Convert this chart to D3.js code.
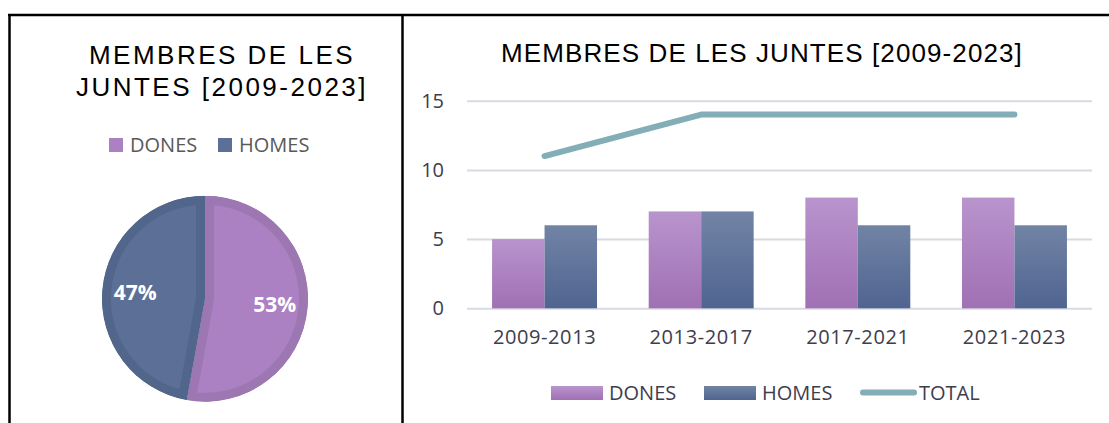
<!DOCTYPE html>
<html>
<head>
<meta charset="utf-8">
<script src="https://cdn.jsdelivr.net/npm/d3@7"></script>
<style>
  body { margin: 0; background: #fff; }
  svg { display: block; }
</style>
</head>
<body>
<svg width="1109" height="423"></svg>
<script>
/*data*/
var categories = ["2009-2013", "2013-2017", "2017-2021", "2021-2023"];
var series = ["DONES", "HOMES"];
var dones = [5, 7, 8, 8];
var homes = [6, 7, 6, 6];
var total = [11, 14, 14, 14];
var yTicks = [0, 5, 10, 15];
var title = "MEMBRES DE LES JUNTES [2009-2023]";

var colors = {DONES: {top: "#B894CD", bottom: "#A070B4", pie: "#AB81C3", edge: "#9C77B2"},
              HOMES: {top: "#7284A5", bottom: "#4F6490", pie: "#5B6F97", edge: "#51668A"}};
var lineColor = "#83AEB7";

var svg = d3.select("svg");

var defs = svg.append("defs");
series.forEach(function(s) {
  var g = defs.append("linearGradient")
    .attr("id", "grad-" + s)
    .attr("x1", 0).attr("y1", 0).attr("x2", 0).attr("y2", 1);
  g.append("stop").attr("offset", "0%").attr("stop-color", colors[s].top);
  g.append("stop").attr("offset", "100%").attr("stop-color", colors[s].bottom);
});

// frame lines
svg.append("line").attr("x1", 8).attr("x2", 1109).attr("y1", 15).attr("y2", 15)
  .attr("stroke", "#000").attr("stroke-width", 2.5);
svg.append("line").attr("x1", 9.5).attr("x2", 9.5).attr("y1", 14).attr("y2", 423)
  .attr("stroke", "#000").attr("stroke-width", 2.5);
svg.append("line").attr("x1", 402.5).attr("x2", 402.5).attr("y1", 14).attr("y2", 423)
  .attr("stroke", "#000").attr("stroke-width", 2.5);

/* ---- left: pie ---- */
var left = svg.append("g");

left.selectAll("text.title")
  .data(["MEMBRES DE LES", "JUNTES [2009-2023]"])
  .enter().append("text")
  .attr("class", "title")
  .attr("x", 222)
  .attr("y", function(d, i) { return 64 + i * 32; })
  .attr("text-anchor", "middle")
  .style("font-family", "'Liberation Sans', Arial, sans-serif")
  .style("font-size", "26px")
  .style("letter-spacing", "2.5px")
  .style("fill", "#000")
  .text(function(d) { return d; });

var pieLegend = left.selectAll("g.pleg")
  .data(series)
  .enter().append("g")
  .attr("class", "pleg")
  .attr("transform", function(d, i) { return "translate(" + (109 + i * 109) + ",138)"; });
pieLegend.append("rect")
  .attr("width", 14).attr("height", 14)
  .attr("fill", function(d) { return colors[d].pie; });
pieLegend.append("text")
  .attr("x", 21).attr("y", 14)
  .style("font-family", "'Open Sans', sans-serif")
  .style("font-size", "20px")
  .style("fill", "#595959")
  .text(function(d) { return d; });

var pieData = [
  {key: "DONES", value: d3.sum(dones)},
  {key: "HOMES", value: d3.sum(homes)}
];
var sumAll = d3.sum(pieData, function(d) { return d.value; });

var pie = d3.pie().sort(null).value(function(d) { return d.value; });
var r = 103;
var arc = d3.arc().innerRadius(0).outerRadius(r);
var labelArc = d3.arc().innerRadius(70).outerRadius(70);

var pg = left.append("g").attr("transform", "translate(205,298.7)");
var slices = pie(pieData);

var sg = pg.selectAll("g.slice").data(slices).enter().append("g").attr("class", "slice");
sg.append("clipPath")
  .attr("id", function(d) { return "clip-" + d.data.key; })
  .append("path").attr("d", arc);
sg.append("path")
  .attr("d", arc)
  .attr("fill", function(d) { return colors[d.data.key].pie; })
  .attr("stroke", function(d) { return colors[d.data.key].edge; })
  .attr("stroke-width", 18)
  .attr("clip-path", function(d) { return "url(#clip-" + d.data.key + ")"; });

sg.append("text")
  .attr("transform", function(d) { return "translate(" + labelArc.centroid(d) + ")"; })
  .attr("dy", "0.35em")
  .attr("text-anchor", "middle")
  .style("font-family", "'Open Sans', sans-serif")
  .style("font-weight", "bold")
  .style("font-size", "21px")
  .style("fill", "#fff")
  .text(function(d) { return Math.round(d.value / sumAll * 100) + "%"; });

/* ---- right: bars + line ---- */
svg.append("text")
  .attr("x", 762).attr("y", 62)
  .attr("text-anchor", "middle")
  .style("font-family", "'Liberation Sans', Arial, sans-serif")
  .style("font-size", "26px")
  .style("letter-spacing", "1.1px")
  .style("fill", "#000")
  .text(title);

var x0 = d3.scaleBand().domain(categories).range([467, 1092]).paddingInner(0.33).paddingOuter(0.16);
var x1 = d3.scaleBand().domain(series).range([0, x0.bandwidth()]);
var y = d3.scaleLinear().domain([0, 15]).range([308.3, 100.7]);

var yAxis = d3.axisLeft(y).tickValues(yTicks).tickSize(-(1092 - 467)).tickPadding(23);
var ya = svg.append("g").attr("transform", "translate(467,0)").call(yAxis);
ya.select(".domain").remove();
ya.selectAll(".tick line").attr("stroke", "#D9D9E3").attr("stroke-width", 2);
ya.selectAll(".tick text")
  .style("font-family", "'Open Sans', sans-serif")
  .style("font-size", "20px")
  .style("fill", "#3D3D4D");

var xAxis = d3.axisBottom(x0).tickSize(0).tickPadding(22);
var xa = svg.append("g").attr("transform", "translate(0,308.3)").call(xAxis);
xa.select(".domain").remove();
xa.selectAll(".tick text")
  .style("font-family", "'Open Sans', sans-serif")
  .style("font-size", "20px")
  .style("letter-spacing", "0.6px")
  .style("fill", "#3D3D4D");

var barData = categories.map(function(c, i) {
  return {cat: c, values: [{key: "DONES", v: dones[i]}, {key: "HOMES", v: homes[i]}]};
});

svg.selectAll("g.grp").data(barData).enter().append("g")
  .attr("class", "grp")
  .attr("transform", function(d) { return "translate(" + x0(d.cat) + ",0)"; })
  .selectAll("rect").data(function(d) { return d.values; }).enter().append("rect")
  .attr("x", function(d) { return x1(d.key); })
  .attr("width", x1.bandwidth())
  .attr("y", function(d) { return y(d.v); })
  .attr("height", function(d) { return y(0) - y(d.v); })
  .attr("fill", function(d) { return "url(#grad-" + d.key + ")"; });

var line = d3.line()
  .x(function(d, i) { return x0(categories[i]) + x0.bandwidth() / 2; })
  .y(function(d) { return y(d); });

svg.append("path")
  .datum(total)
  .attr("d", line)
  .attr("fill", "none")
  .attr("stroke", lineColor)
  .attr("stroke-width", 6)
  .attr("stroke-linecap", "round")
  .attr("stroke-linejoin", "round");

// bottom legend
var legItems = [{key: "DONES", x: 551}, {key: "HOMES", x: 704}, {key: "TOTAL", x: 860}];
var leg = svg.selectAll("g.leg").data(legItems).enter().append("g")
  .attr("class", "leg")
  .attr("transform", function(d) { return "translate(" + d.x + ",386)"; });
leg.filter(function(d) { return d.key !== "TOTAL"; }).append("rect")
  .attr("width", 52).attr("height", 14)
  .attr("fill", function(d) { return "url(#grad-" + d.key + ")"; });
leg.filter(function(d) { return d.key === "TOTAL"; }).append("line")
  .attr("x1", 3).attr("x2", 54).attr("y1", 6.5).attr("y2", 6.5)
  .attr("stroke", lineColor).attr("stroke-width", 6).attr("stroke-linecap", "round");
leg.append("text")
  .attr("x", function(d) { return d.key === "TOTAL" ? 59 : 58; })
  .attr("y", 14)
  .style("font-family", "'Open Sans', sans-serif")
  .style("font-size", "20px")
  .style("fill", "#3D3D4D")
  .text(function(d) { return d.key; });
</script>
</body>
</html>
